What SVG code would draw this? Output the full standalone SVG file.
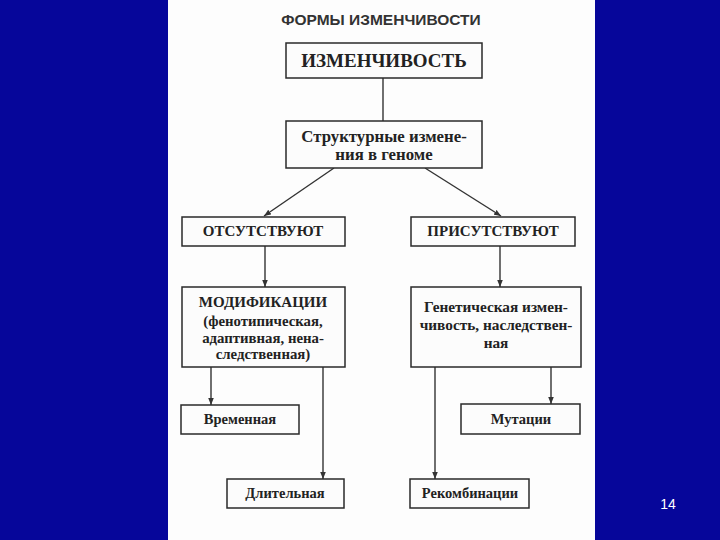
<svg xmlns="http://www.w3.org/2000/svg" width="720" height="540" viewBox="0 0 720 540">
<defs>
<style>
.box{fill:#fcfcfc;stroke:#2a2a2a;stroke-width:1.5}
.t{font-family:"Liberation Serif","Times New Roman",serif;font-weight:bold;fill:#222;text-anchor:middle}
.ln{stroke:#333;stroke-width:1.4;fill:none}
</style>
<marker id="ah" viewBox="0 0 10 10" refX="10" refY="5" markerWidth="7" markerHeight="7" markerUnits="userSpaceOnUse" orient="auto">
<path d="M0,1 L10,5 L0,9 Z" fill="#333"/>
</marker>
</defs>
<rect x="0" y="0" width="720" height="540" fill="#06069a"/>
<rect x="168" y="0" width="427" height="540" fill="#fdfdfd"/>
<text x="381" y="25" font-family="Liberation Sans,Arial,sans-serif" font-weight="bold" font-size="15.5" fill="#333" text-anchor="middle">ФОРМЫ ИЗМЕНЧИВОСТИ</text>
<text x="668" y="509" font-family="Liberation Sans,Arial,sans-serif" font-size="14" fill="#ffffff" text-anchor="middle">14</text>

<g id="connectors">
<line class="ln" x1="383" y1="78" x2="383" y2="121"/>
<line class="ln" x1="334" y1="168" x2="264" y2="216" marker-end="url(#ah)"/>
<line class="ln" x1="425" y1="168" x2="501" y2="216" marker-end="url(#ah)"/>
<line class="ln" x1="265" y1="246" x2="265" y2="287" marker-end="url(#ah)"/>
<line class="ln" x1="500" y1="246" x2="500" y2="287" marker-end="url(#ah)"/>
<line class="ln" x1="211" y1="367" x2="211" y2="405" marker-end="url(#ah)"/>
<line class="ln" x1="323" y1="367" x2="323" y2="479" marker-end="url(#ah)"/>
<line class="ln" x1="435" y1="367" x2="435" y2="479" marker-end="url(#ah)"/>
<line class="ln" x1="551" y1="367" x2="551" y2="404" marker-end="url(#ah)"/>
</g>

<g id="izmenchivost">
<rect class="box" x="286" y="43" width="196" height="35"/>
<text class="t" x="384" y="67" font-size="19">ИЗМЕНЧИВОСТЬ</text>
</g>
<g id="struct">
<rect class="box" x="286" y="121" width="196" height="47"/>
<text class="t" x="384" y="142" font-size="16.8">Структурные измене-</text>
<text class="t" x="384" y="160" font-size="16.8">ния в геноме</text>
</g>
<g id="otsut">
<rect class="box" x="182" y="217" width="163" height="29"/>
<text class="t" x="263" y="236" font-size="15">ОТСУТСТВУЮТ</text>
</g>
<g id="prisut">
<rect class="box" x="411" y="217" width="164" height="29"/>
<text class="t" x="493" y="236" font-size="15">ПРИСУТСТВУЮТ</text>
</g>
<g id="modif">
<rect class="box" x="182" y="287" width="163" height="80"/>
<text class="t" x="263" y="307" font-size="15">МОДИФИКАЦИИ</text>
<text class="t" x="263" y="326" font-size="14.8">(фенотипическая,</text>
<text class="t" x="263" y="343" font-size="14.8">адаптивная, нена-</text>
<text class="t" x="263" y="359" font-size="14.8">следственная)</text>
</g>
<g id="genet">
<rect class="box" x="411" y="287" width="170" height="80"/>
<text class="t" x="496" y="312" font-size="15.3">Генетическая измен-</text>
<text class="t" x="496" y="330" font-size="15.3">чивость, наследствен-</text>
<text class="t" x="496" y="348" font-size="15.3">ная</text>
</g>
<g id="vremen">
<rect class="box" x="181" y="405" width="118" height="29"/>
<text class="t" x="240" y="424" font-size="14.5">Временная</text>
</g>
<g id="dlitel">
<rect class="box" x="227" y="479" width="117" height="29"/>
<text class="t" x="285" y="498" font-size="14.5">Длительная</text>
</g>
<g id="mutacii">
<rect class="box" x="461" y="404" width="119" height="30"/>
<text class="t" x="521" y="424" font-size="14.5">Мутации</text>
</g>
<g id="rekomb">
<rect class="box" x="410" y="479" width="119" height="29"/>
<text class="t" x="470" y="498" font-size="14.5">Рекомбинации</text>
</g>
</svg>
